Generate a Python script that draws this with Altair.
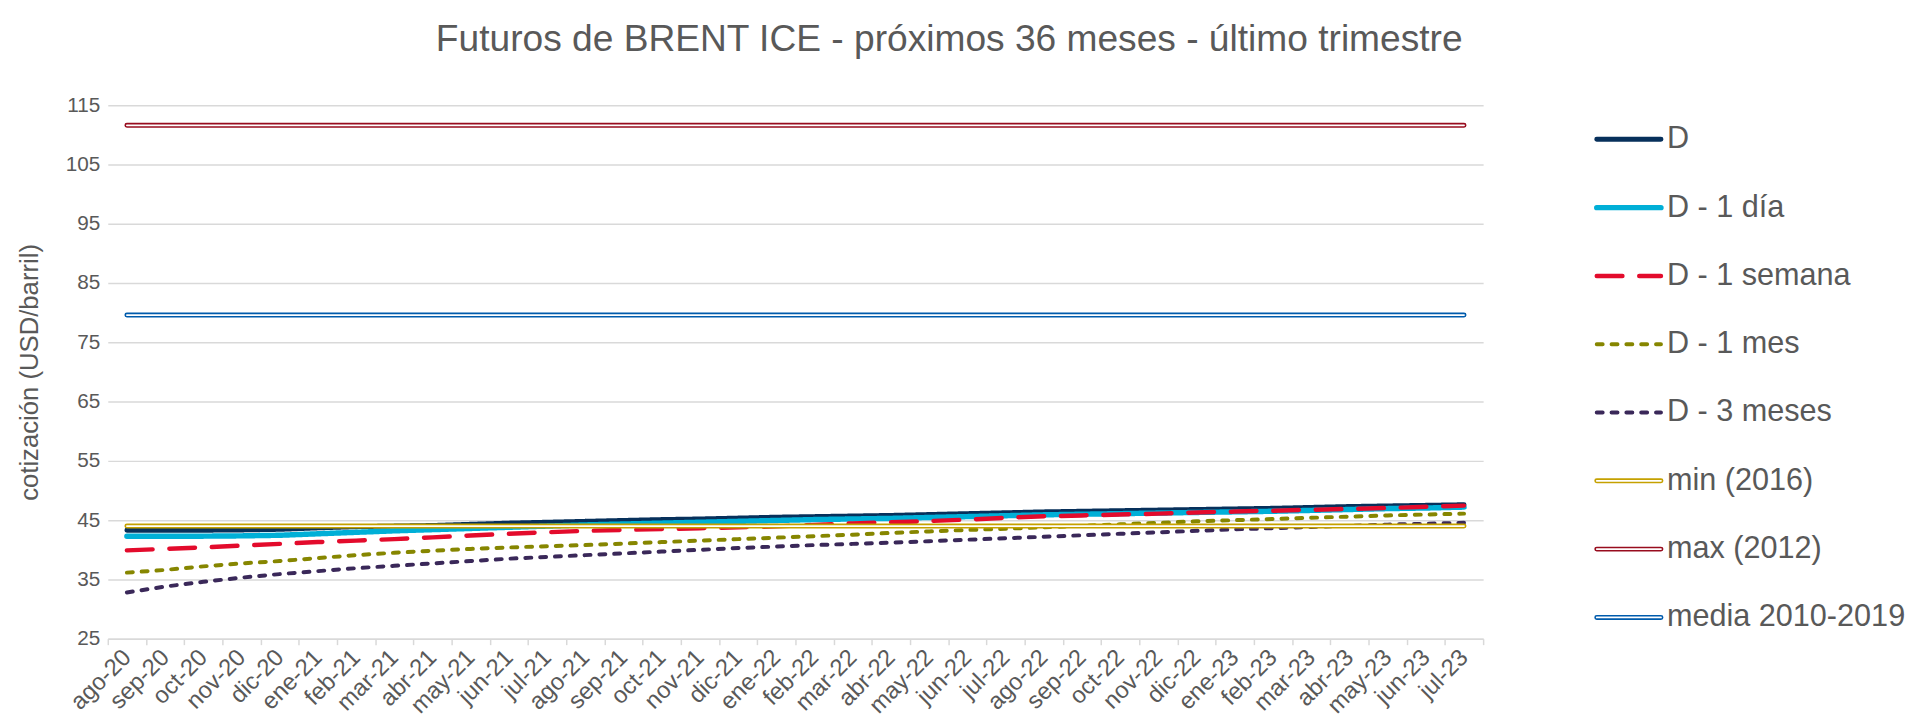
import altair as alt
import pandas as pd

FONT = "Liberation Sans"
GREY = "#595959"
GRID = "#D9D9D9"

months = ["ago-20", "sep-20", "oct-20", "nov-20", "dic-20", "ene-21", "feb-21", "mar-21",
          "abr-21", "may-21", "jun-21", "jul-21", "ago-21", "sep-21", "oct-21", "nov-21",
          "dic-21", "ene-22", "feb-22", "mar-22", "abr-22", "may-22", "jun-22", "jul-22",
          "ago-22", "sep-22", "oct-22", "nov-22", "dic-22", "ene-23", "feb-23", "mar-23",
          "abr-23", "may-23", "jun-23", "jul-23"]

d_hoy = [43.3, 43.3, 43.3, 43.35, 43.45, 43.7, 43.9, 44.0, 44.1, 44.3, 44.5, 44.65,
         44.8, 44.95, 45.1, 45.2, 45.35, 45.5, 45.6, 45.7, 45.8, 45.95, 46.1, 46.25,
         46.4, 46.5, 46.6, 46.7, 46.8, 46.9, 47.0, 47.15, 47.3, 47.4, 47.5, 47.6]
d_1dia = [42.3, 42.3, 42.3, 42.35, 42.45, 42.7, 42.95, 43.2, 43.4, 43.6, 43.8, 44.0,
          44.2, 44.35, 44.5, 44.65, 44.8, 44.95, 45.1, 45.2, 45.3, 45.45, 45.6, 45.75,
          45.9, 46.0, 46.1, 46.2, 46.3, 46.4, 46.5, 46.65, 46.8, 46.95, 47.05, 47.2]
d_1sem = [39.9, 40.15, 40.4, 40.7, 41.0, 41.3, 41.55, 41.8, 42.1, 42.4, 42.7, 42.95,
          43.2, 43.35, 43.5, 43.65, 43.8, 43.95, 44.2, 44.45, 44.65, 44.85, 45.1, 45.4,
          45.65, 45.8, 45.95, 46.1, 46.3, 46.45, 46.6, 46.75, 46.9, 47.05, 47.25, 47.45]
d_1mes = [36.15, 36.6, 37.2, 37.7, 38.1, 38.6, 39.1, 39.5, 39.85, 40.15, 40.4, 40.6,
          40.8, 41.05, 41.3, 41.55, 41.8, 42.05, 42.3, 42.55, 42.85, 43.1, 43.35, 43.55,
          43.8, 44.05, 44.3, 44.55, 44.8, 45.0, 45.2, 45.4, 45.6, 45.8, 45.95, 46.1]
d_3mes = [32.8, 33.8, 34.6, 35.3, 35.9, 36.4, 36.9, 37.3, 37.7, 38.1, 38.5, 38.8,
          39.1, 39.4, 39.7, 40.0, 40.3, 40.55, 40.8, 41.0, 41.2, 41.45, 41.7, 41.95,
          42.2, 42.45, 42.7, 42.95, 43.2, 43.45, 43.65, 43.85, 44.05, 44.25, 44.4, 44.55]
min_2016 = 44.0
max_2012 = 111.6
media_2010_2019 = 79.6

series_names = ["D", "D - 1 día", "D - 1 semana", "D - 1 mes", "D - 3 meses",
                "min (2016)", "max (2012)", "media 2010-2019"]

series_values = {
    "D": d_hoy,
    "D - 1 día": d_1dia,
    "D - 1 semana": d_1sem,
    "D - 1 mes": d_1mes,
    "D - 3 meses": d_3mes,
    "min (2016)": [min_2016] * len(months),
    "max (2012)": [max_2012] * len(months),
    "media 2010-2019": [media_2010_2019] * len(months),
}

# style per series: colour, width, dash, double-line
styles = {
    "D": dict(color="#07305B", width=5, dash=[1, 0], double=False),
    "D - 1 día": dict(color="#00AFD7", width=5.5, dash=[1, 0], double=False),
    "D - 1 semana": dict(color="#E30B2C", width=4.5, dash=[26, 17], double=False),
    "D - 1 mes": dict(color="#868600", width=4, dash=[6, 9], double=False),
    "D - 3 meses": dict(color="#3A2859", width=4, dash=[6, 9], double=False),
    "min (2016)": dict(color="#C5A100", width=5, dash=[1, 0], double=True),
    "max (2012)": dict(color="#980C1E", width=5, dash=[1, 0], double=True),
    "media 2010-2019": dict(color="#005BAC", width=5, dash=[1, 0], double=True),
}

rows = []
for name in series_names:
    for m, v in zip(months, series_values[name]):
        rows.append({"serie": name, "mes": m, "valor": v})
df = pd.DataFrame(rows)

x_enc = alt.X(
    "mes:O",
    sort=months,
    scale=alt.Scale(type="band", domain=months, paddingInner=0, paddingOuter=0),
    bandPosition=0.5,
    title=None,
    axis=alt.Axis(
        labelAngle=-45, labelAlign="right", labelBaseline="middle",
        labelFontSize=24, labelColor=GREY, labelFont=FONT, labelPadding=9,
        tickBand="extent", tickColor=GRID, tickSize=6, tickWidth=1.5,
        domainColor=GRID, domainWidth=1.5, grid=False, labelOverlap=False,
    ),
)
y_enc = alt.Y(
    "valor:Q",
    scale=alt.Scale(domain=[25, 115], nice=False, zero=False),
    title="cotización (USD/barril)",
    axis=alt.Axis(
        values=list(range(25, 116, 10)), labelFontSize=21, labelColor=GREY,
        labelFont=FONT, labelPadding=8, ticks=False, tickSize=0, domain=False,
        gridColor=GRID, gridWidth=1.5, titleFontSize=26, titleColor=GREY,
        titleFont=FONT, titleFontWeight="normal", titlePadding=23,
    ),
)

base = alt.Chart(df).encode(x=x_enc, y=y_enc)
layers = []
for name in series_names:
    s = styles[name]
    sub = base.transform_filter(alt.datum.serie == name)
    layers.append(sub.mark_line(color=s["color"], strokeWidth=s["width"],
                                strokeDash=s["dash"], strokeCap="round",
                                strokeJoin="round"))
    if s["double"]:
        layers.append(sub.mark_line(color="white", strokeWidth=1.8,
                                    strokeCap="round", strokeJoin="round"))

main = alt.layer(*layers).properties(width=1392, height=540)

# legend panel
leg_df = pd.DataFrame({"serie": series_names, "x0": 0.0, "x1": 1.0})
leg_y = alt.Y("serie:N", sort=series_names,
              scale=alt.Scale(type="point", domain=series_names, padding=0.5),
              axis=None)
leg_base = alt.Chart(leg_df).encode(
    y=leg_y,
    x=alt.X("x0:Q", scale=alt.Scale(domain=[0, 1]), axis=None),
)
leg_layers = []
for name in series_names:
    s = styles[name]
    sub = leg_base.transform_filter(alt.datum.serie == name)
    leg_layers.append(sub.mark_rule(color=s["color"], strokeWidth=s["width"],
                                    strokeDash=s["dash"], strokeCap="round")
                      .encode(x2="x1:Q"))
    if s["double"]:
        leg_layers.append(sub.mark_rule(color="white", strokeWidth=1.8,
                                        strokeCap="round").encode(x2="x1:Q"))
leg_text = alt.Chart(leg_df).mark_text(
    align="left", baseline="middle", dx=6, fontSize=31, font=FONT, color=GREY
).encode(
    y=leg_y,
    x=alt.X("x1:Q", scale=alt.Scale(domain=[0, 1]), axis=None),
    text="serie:N",
)
legend = alt.layer(*leg_layers, leg_text).properties(width=65, height=553)

chart = alt.hconcat(main, legend, spacing=111).properties(
    title=alt.TitleParams(
        "Futuros de BRENT ICE - próximos 36 meses - último trimestre",
        fontSize=37.6, font=FONT, color=GREY, fontWeight="normal",
        anchor="middle", offset=36, dx=-12,
    ),
    padding={"left": 8, "top": 9, "right": 0, "bottom": 5},
).configure_view(stroke=None)

chart.save("out.html", embed_options={"renderer": "svg", "actions": False})
